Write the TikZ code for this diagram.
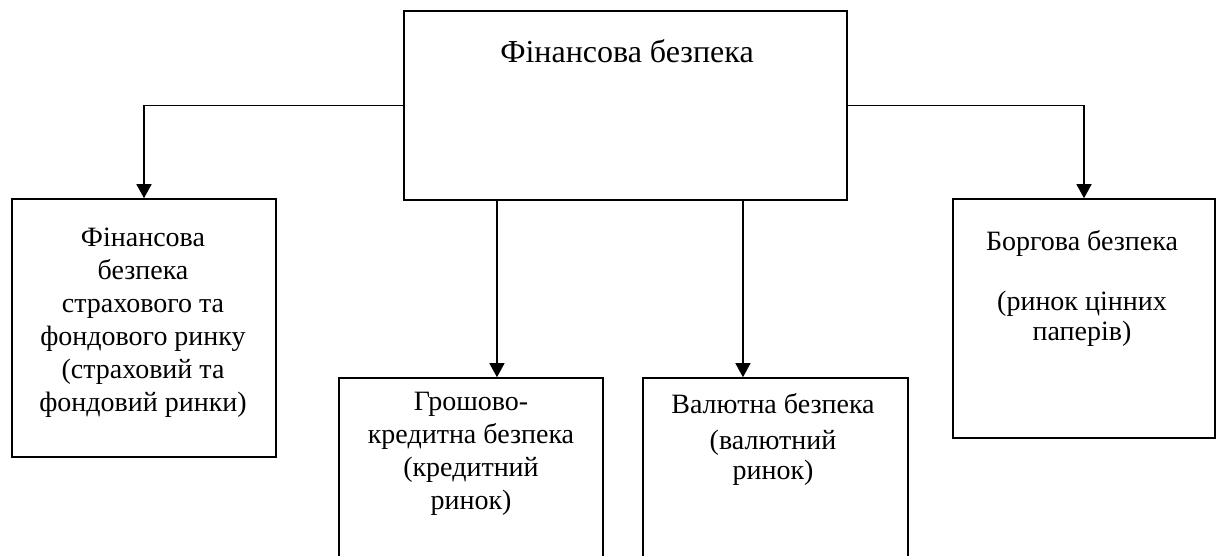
\documentclass[tikz,border=0pt]{standalone}
\usepackage{fontspec}
\setmainfont{Liberation Serif}
\usetikzlibrary{arrows.meta}
\begin{document}
\begin{tikzpicture}[x=0.75pt,y=-0.75pt,
  box/.style={draw, line width=1.2pt, inner sep=0pt},
  txt/.style={align=center, inner sep=0pt, anchor=base, font=\fontsize{21}{24.75}\selectfont},
  conn/.style={line width=1pt, -{Triangle[width=11.25pt,length=10.5pt]}}]
\useasboundingbox (0,0) rectangle (1217,556);
\clip (0,0) rectangle (1217,556);
% boxes
\node[box, minimum width=332.25pt, minimum height=141.75pt] (top) at (625.5,105.5) {};
\node[box, minimum width=198pt, minimum height=193.5pt] (left) at (144,328) {};
\node[box, minimum width=198pt, minimum height=166.5pt] (midL) at (471,489) {};
\node[box, minimum width=198.75pt, minimum height=166.5pt] (midR) at (775.5,489) {};
\node[box, minimum width=196.5pt, minimum height=179.25pt] (right) at (1084,318.5) {};
% texts (anchor = baseline of the last line)
\node[txt, font=\fontsize{24}{28}\selectfont] (ttop) at (627,63) {Фінансова безпека};
\node[txt] (tleft) at (143,411) {Фінансова\\безпека\\страхового та\\фондового ринку\\(страховий та\\фондовий ринки)};
\node[txt] (tmidL) at (471,509) {Грошово-\\кредитна безпека\\(кредитний\\ринок)};
\node[txt] (tmidR) at (773,479) {Валютна безпека\\[2.25pt](валютний\\[-2.25pt]ринок)};
\node[txt] (tright) at (1082,340) {Боргова безпека\\[20.25pt](ринок цінних\\[-2.25pt]паперів)};
% connectors
\draw[conn] (top.west) -| (left.north);
\draw[conn] (top.east) -| (right.north);
\draw[conn] ([xshift=-96.4pt]top.south) -- ([xshift=-96.4pt]top.south |- midL.north);
\draw[conn] ([xshift=88.1pt]top.south) -- ([xshift=88.1pt]top.south |- midR.north);
\end{tikzpicture}
\end{document}
